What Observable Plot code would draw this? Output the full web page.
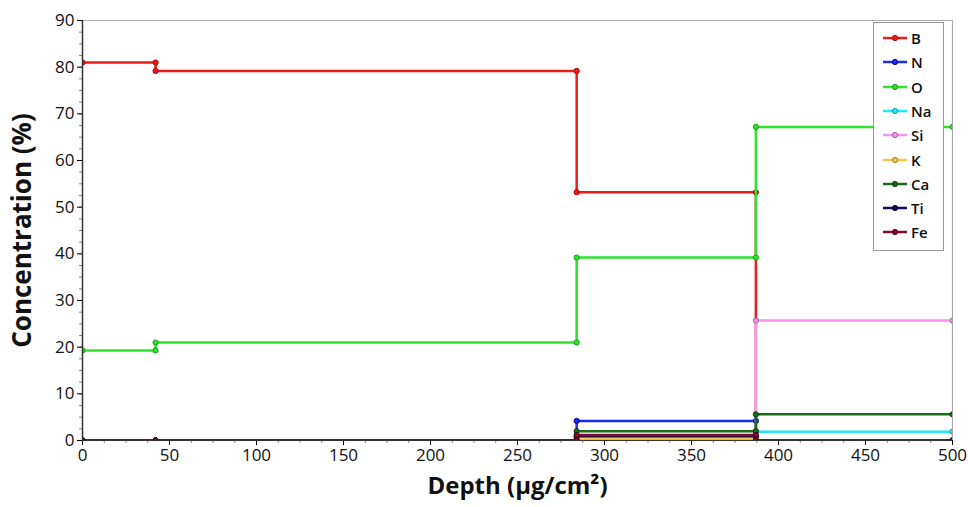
<!DOCTYPE html>
<html>
<head>
<meta charset="utf-8">
<script src="https://cdn.jsdelivr.net/npm/d3@7"></script>
<script src="https://cdn.jsdelivr.net/npm/@observablehq/plot@0.6"></script>
<style>
  body { margin: 0; background: #fff; font-family: "Open Sans", "Noto Sans", sans-serif; }
  #wrap { position: relative; width: 968px; height: 507px; }
  #legend { position: absolute; left: 873px; top: 22px; width: 71px; height: 229px; border: 1px solid #999; background: #fff; box-sizing: border-box; }
  .li { position: absolute; left: 0; height: 20px; display: flex; align-items: center; font-size: 15px; font-weight: 600; color: #111; }
  .li svg { margin-left: 9px; margin-right: 4px; }
</style>
</head>
<body>
<div id="wrap"><div id="chart"></div><div id="legend"></div></div>
<script>
const depths = [0, 42, 42, 284, 284, 387, 387, 500];
const elements = ["B", "N", "O", "Na", "Si", "K", "Ca", "Ti", "Fe"];
const colors = ["#ec1c1c", "#1c2cf0", "#2ee22e", "#22e6f2", "#f296f2", "#f4c84a", "#1a6a1a", "#0e0e5e", "#820a36"];
const strokes = ["#b00000", "#0000a0", "#12a012", "#10a0b0", "#a060a0", "#a08020", "#0a400a", "#000030", "#500018"];
const B  = [81, 81, 79.2, 79.2, 53.2, 53.2, 0, 0];
const N  = [0, 0, 0, 0, 4.2, 4.2, 0, 0];
const O  = [19.3, 19.3, 21, 21, 39.2, 39.2, 67.2, 67.2];
const Na = [0, 0, 0, 0, 0.4, 0.4, 1.9, 1.9];
const Si = [0, 0, 0, 0, 0, 0, 25.7, 25.7];
const K  = [0, 0, 0, 0, 0.6, 0.6, 0, 0];
const Ca = [0, 0, 0, 0, 2.0, 2.0, 5.6, 5.6];
const Ti = [0, 0, 0, 0, 0.9, 0.9, 0, 0];
const Fe = [0, 0, 0, 0, 1.2, 1.2, 0, 0];
const xTicks = [0, 50, 100, 150, 200, 250, 300, 350, 400, 450, 500];
const yTicks = [0, 10, 20, 30, 40, 50, 60, 70, 80, 90];

const series = [B, N, O, Na, Si, K, Ca, Ti, Fe];
const rows = [];
series.forEach((vals, i) => vals.forEach((v, j) => rows.push({el: elements[i], x: depths[j], y: v, idx: i})));

const lineMarks = [];
series.forEach((vals, i) => {
  const d = rows.filter(r => r.idx === i);
  lineMarks.push(Plot.line(d, {x: "x", y: "y", stroke: colors[i], strokeWidth: 2.5, curve: "linear", clip: true}));
  lineMarks.push(Plot.dot(d, {x: "x", y: "y", r: 2.6, fill: colors[i], stroke: strokes[i], strokeWidth: 1, clip: true}));
});

const chart = Plot.plot({
  width: 968,
  height: 507,
  marginLeft: 82,
  marginRight: 16,
  marginTop: 20,
  marginBottom: 67,
  style: {fontFamily: "'Open Sans', 'Noto Sans', sans-serif", background: "#fff"},
  x: {domain: [0, 500], label: null},
  y: {domain: [0, 90], label: null},
  marks: [
    Plot.ruleY([90], {stroke: "#aaa", strokeWidth: 1.2}),
    Plot.ruleX([500], {stroke: "#aaa", strokeWidth: 1.2}),
    Plot.axisX({ticks: d3.range(0, 501, 12.5), tickSize: 3, tickFormat: () => "", stroke: "#888", label: null}),
    Plot.axisY({ticks: d3.range(0, 91, 2.5), tickSize: 3, tickFormat: () => "", stroke: "#888", label: null}),
    Plot.axisX({ticks: xTicks, tickSize: 5, tickPadding: 3, fontSize: 17, fill: "#111", label: null}),
    Plot.axisY({ticks: yTicks, tickSize: 5, tickPadding: 3, fontSize: 17, fill: "#111", label: null}),
    Plot.text(["Depth (µg/cm²)"], {frameAnchor: "bottom", dy: 53, fontSize: 24, fontWeight: "bold", fill: "#111"}),
    Plot.text(["Concentration (%)"], {frameAnchor: "left", textAnchor: "middle", dx: -60, rotate: -90, fontSize: 26, fontWeight: "bold", fill: "#111"}),
    ...lineMarks,
    Plot.ruleX([0], {stroke: "#333", strokeWidth: 1.5}),
    Plot.ruleY([0], {stroke: "#333", strokeWidth: 1})
  ]
});
document.getElementById("chart").appendChild(chart);

const leg = document.getElementById("legend");
elements.forEach((e, i) => {
  const div = document.createElement("div");
  div.className = "li";
  div.style.top = (5 + i * 24.3) + "px";
  div.innerHTML = `<svg width="24" height="10"><line x1="0" y1="5" x2="24" y2="5" stroke="${colors[i]}" stroke-width="2.5"/><circle cx="12" cy="5" r="2.6" fill="${colors[i]}" stroke="${strokes[i]}"/></svg><span>${e}</span>`;
  leg.appendChild(div);
});
</script>
</body>
</html>
